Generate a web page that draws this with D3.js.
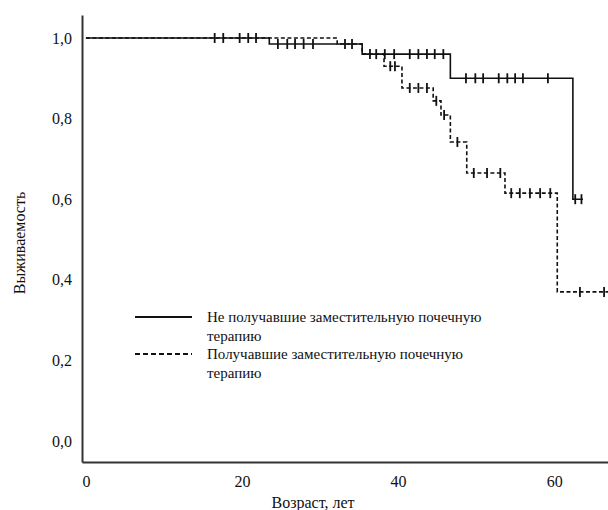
<!DOCTYPE html>
<html>
<head>
<meta charset="utf-8">
<script src="https://cdn.jsdelivr.net/npm/d3@7"></script>
<style>
  body { margin: 0; background: #fff; }
  svg text { font-family: "Liberation Serif", "DejaVu Serif", "Times New Roman", Times, serif; fill: #111; }
</style>
</head>
<body>
<script>
// group without renal replacement therapy (solid)
const noRrtTimes = [0, 23.5, 35.4, 46.7, 62.4];
const noRrtSurv = [1.0, 0.985, 0.96, 0.90, 0.60];
const noRrtCensored = [16.5, 17.6, 19.7, 20.8, 21.8, 24.6, 25.8, 26.8, 27.9, 29.1,
    38.3, 39.5, 41.5, 42.6, 43.7, 44.7, 45.8,
    48.7, 49.9, 50.9, 52.9, 54.0, 55.0, 56.0, 59.2, 62.7, 63.5];
const noRrtEnd = 63.7;

// group with renal replacement therapy (dashed)
const rrtTimes = [0, 32.2, 35.4, 38.2, 40.5, 44.5, 45.5, 46.7, 48.8, 53.7, 60.4];
const rrtSurv = [1.0, 0.985, 0.96, 0.93, 0.876, 0.844, 0.809, 0.742, 0.665, 0.615, 0.37];
const rrtCensored = [33.2, 34.1, 36.4, 37.2, 39.0, 39.6, 41.5, 42.6, 43.7, 44.9, 45.9,
    47.6, 49.7, 51.4, 53.1, 54.5, 55.6, 56.9, 58.2, 59.5, 63.3, 66.4];
const rrtEnd = 67;

const xTicks = [0, 20, 40, 60];
const yTicks = [0, 0.2, 0.4, 0.6, 0.8, 1.0];
const legendNames = [
    ['Не получавшие заместительную почечную', 'терапию'],
    ['Получавшие заместительную почечную', 'терапию']
];
const xTitle = 'Возраст, лет';
const yTitle = 'Выживаемость';

const serif = '"Liberation Serif", "DejaVu Serif", "Times New Roman", Times, serif';

const svgValues = {
    width: 608,
    height: 510,
    left: 82,
    right: 608,
    top: 15,
    bottom: 462
}

function makeSvg(){
    const svg = d3.select('body')
        .append('svg')
        .attr('width', svgValues.width)
        .attr('height', svgValues.height)
        .attr('font-family', serif)

    svg.append('defs')
        .append('clipPath')
        .attr('id', 'plot-clip')
        .append('rect')
        .attr('x', svgValues.left)
        .attr('y', svgValues.top)
        .attr('width', svgValues.right - svgValues.left)
        .attr('height', svgValues.bottom - svgValues.top)

    return svg
}

function makeScalesAndAxes(svg){
    const xScale = d3.scaleLinear()
        .domain([-0.5, 66.9])
        .range([svgValues.left, svgValues.right])

    const yScale = d3.scaleLinear()
        .domain([-0.052, 1.057])
        .range([svgValues.bottom, svgValues.top])

    const xAxis = d3.axisBottom(xScale)
        .tickValues(xTicks)
        .tickSize(0)
        .tickPadding(14)
        .tickFormat(d3.format('d'))

    const yAxis = d3.axisLeft(yScale)
        .tickValues(yTicks)
        .tickSize(0)
        .tickPadding(10)
        .tickFormat(d => d3.format('.1f')(d).replace('.', ','))

    const gx = svg.append('g')
        .attr('transform', 'translate(0,' + svgValues.bottom + ')')
        .call(xAxis)

    const gy = svg.append('g')
        .attr('transform', 'translate(' + svgValues.left + ',0)')
        .call(yAxis)

    for (const g of [gx, gy]) {
        g.attr('font-family', serif)
        g.select('.domain')
            .attr('stroke', '#333')
            .attr('stroke-width', 2)
        g.selectAll('text')
            .attr('font-size', 16)
            .attr('fill', '#111')
    }

    svg.append('text') // x title
        .text(xTitle)
        .attr('text-anchor', 'middle')
        .attr('font-size', 16)
        .attr('x', 313)
        .attr('y', 508)

    svg.append('text') // y title
        .text(yTitle)
        .attr('text-anchor', 'middle')
        .attr('font-size', 16)
        .attr('transform', 'translate(25,243) rotate(-90)')

    return [xScale, yScale]
}

function survAt(times, surv, t){
    let s = surv[0];
    times.forEach((d, i) => { if (t >= d) s = surv[i]; });
    return s
}

function makeCurve(svg, xScale, yScale, times, surv, censored, end, dash){
    const points = times.map((t, i) => [t, surv[i]]);
    points.push([end, surv[surv.length - 1]]);

    const line = d3.line()
        .x(d => xScale(d[0]))
        .y(d => yScale(d[1]))
        .curve(d3.curveStepAfter)

    const g = svg.append('g').attr('clip-path', 'url(#plot-clip)')

    g.append('path')
        .datum(points)
        .attr('d', line)
        .attr('fill', 'none')
        .attr('stroke', '#111')
        .attr('stroke-width', 1.6)
        .attr('stroke-dasharray', dash)

    g.selectAll('line.censor')
        .data(censored)
        .enter()
        .append('line')
        .attr('class', 'censor')
        .attr('x1', d => xScale(d))
        .attr('x2', d => xScale(d))
        .attr('y1', d => yScale(survAt(times, surv, d)) - 5)
        .attr('y2', d => yScale(survAt(times, surv, d)) + 5)
        .attr('stroke', '#111')
        .attr('stroke-width', 1.8)
}

function makeLegend(svg){
    const legend = svg.append('g')
        .attr('transform', 'translate(135,317)')

    const rows = legend.selectAll('g')
        .data(legendNames)
        .enter()
        .append('g')
        .attr('transform', (d, i) => 'translate(0,' + (i * 37) + ')')

    rows.append('line')
        .attr('x1', 0)
        .attr('x2', 57)
        .attr('stroke', '#111')
        .attr('stroke-width', 2)
        .attr('stroke-dasharray', (d, i) => i === 0 ? null : '5,3')

    rows.append('text')
        .attr('x', 72)
        .attr('y', 5)
        .attr('font-size', 15)
        .selectAll('tspan')
        .data(d => d)
        .enter()
        .append('tspan')
        .attr('x', 72)
        .attr('dy', (d, i) => i === 0 ? 0 : 18.5)
        .text(d => d)
}

const svg = makeSvg();
const [xScale, yScale] = makeScalesAndAxes(svg);
makeCurve(svg, xScale, yScale, noRrtTimes, noRrtSurv, noRrtCensored, noRrtEnd, null);
makeCurve(svg, xScale, yScale, rrtTimes, rrtSurv, rrtCensored, rrtEnd, '4,2.5');
makeLegend(svg);
</script>
</body>
</html>
